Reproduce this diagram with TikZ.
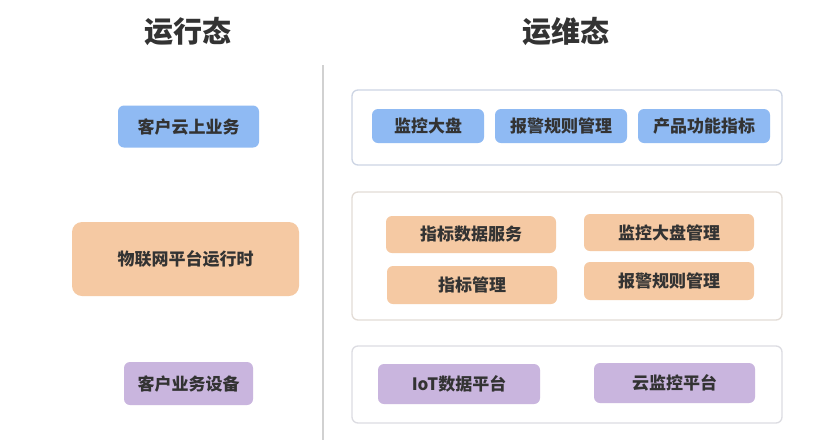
\documentclass[tikz,border=0pt]{standalone}
\usepackage{fontspec}
\setmainfont{Noto Sans CJK SC}
\begin{document}
\begin{tikzpicture}[x=1pt,y=-1pt,
  every node/.style={font=\bfseries\fontsize{17}{19}\selectfont, text=black!80},
  bx/.style={rounded corners=6pt, inner sep=0pt, draw=none},
  bluebox/.style={bx, fill=blueF},
  orangebox/.style={bx, fill=orangeF},
  purplebox/.style={bx, fill=purpleF},
  container/.style={draw=#1, line width=1.3pt, rounded corners=6pt, fill=white, inner sep=0pt},
  title/.style={font=\bfseries\fontsize{29}{32}\selectfont, text=black!80}
]
\definecolor{blueF}{HTML}{8FBAF3}
\definecolor{orangeF}{HTML}{F5C9A3}
\definecolor{purpleF}{HTML}{C9B5DE}
\definecolor{cbA}{HTML}{CDD5E4}
\definecolor{cbB}{HTML}{E3DCD6}
\definecolor{cbC}{HTML}{DCDCE2}
\useasboundingbox (0,0) rectangle (830,440);
\fill[white] (0,0) rectangle (830,440);

% titles
\node[title] (t1) at (188,31) {运行态};
\node[title] (t2) at (566,31) {运维态};

% divider
\coordinate (dtop) at (323,65);
\coordinate (dbot) at (323,440);
\draw[black!18, line width=1.5pt] (dtop) -- (dbot);

% left column
\node[bluebox, minimum width=141pt, minimum height=42pt] (l1) at (188.5,126.5) {客户云上业务};
\node[orangebox, rounded corners=10pt, minimum width=227pt, minimum height=74pt] (l2) at (185.5,259) {物联网平台运行时};
\node[purplebox, minimum width=129pt, minimum height=43pt] (l3) at (188.5,383.5) {客户业务设备};

% containers
\node[container=cbA, minimum width=430pt, minimum height=75pt] (c1) at (567,127.5) {};
\node[container=cbB, minimum width=430pt, minimum height=128pt] (c2) at (567,256) {};
\node[container=cbC, minimum width=430pt, minimum height=77pt] (c3) at (567,384.5) {};

% top row
\node[bluebox, minimum width=112pt, minimum height=34pt] (a1) at (428,126) {监控大盘};
\node[bluebox, minimum width=132pt, minimum height=34pt] (a2) at (561,126) {报警规则管理};
\node[bluebox, minimum width=132pt, minimum height=34pt] (a3) at (704,126) {产品功能指标};

% middle
\node[orangebox, minimum width=170pt, minimum height=37pt] (b1) at (471,234.5) {指标数据服务};
\node[orangebox, minimum width=170pt, minimum height=37pt] (b2) at (669,232.5) {监控大盘管理};
\node[orangebox, minimum width=170pt, minimum height=38pt] (b3) at (472,285) {指标管理};
\node[orangebox, minimum width=170pt, minimum height=38pt] (b4) at (669,281) {报警规则管理};

% bottom
\node[purplebox, minimum width=162pt, minimum height=40pt] (p1) at (459,384) {IoT数据平台};
\node[purplebox, minimum width=161pt, minimum height=40pt] (p2) at (674.5,383) {云监控平台};
\end{tikzpicture}
\end{document}
